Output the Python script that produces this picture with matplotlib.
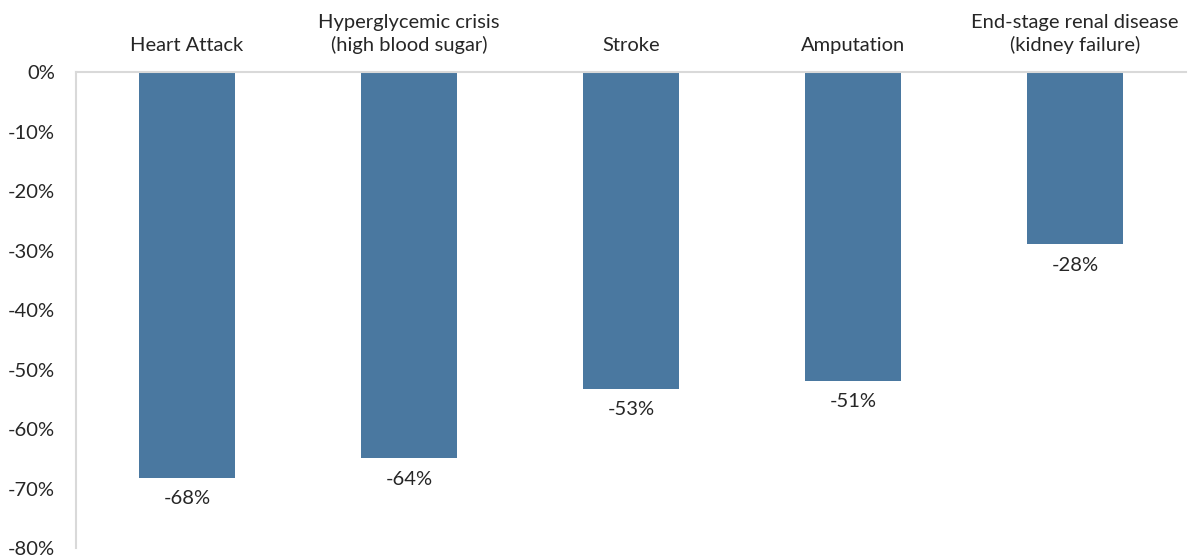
import matplotlib
matplotlib.use("Agg")
import matplotlib.pyplot as plt
from matplotlib.ticker import FuncFormatter

categories = ["Heart Attack", "Hyperglycemic crisis\n(high blood sugar)", "Stroke",
              "Amputation", "End-stage renal disease\n(kidney failure)"]
values = [-68.2, -64.9, -53.2, -51.9, -28.9]
value_labels = ["-68%", "-64%", "-53%", "-51%", "-28%"]
yticks = [0, -10, -20, -30, -40, -50, -60, -70, -80]

plt.rcParams['font.family'] = ['Lato', 'DejaVu Sans']

W, H = 1190, 556
fig = plt.figure(figsize=(W / 100, H / 100), dpi=100)
ax = fig.add_axes([76 / W, 1 - 548 / H, (1186 - 76) / W, (548 - 72.3) / H])

x = list(range(len(categories)))
bar_color = "#4a78a0"
ax.bar(x, values, width=0.43, color=bar_color, zorder=2)

ax.set_xlim(-0.5, len(categories) - 0.5)
ax.set_ylim(-80, 0)
ax.set_yticks(yticks)
ax.yaxis.set_major_formatter(FuncFormatter(lambda v, p: f"{int(round(v))}%"))
ax.tick_params(axis='y', length=0, pad=15, labelsize=14.5, labelcolor="#262626")

ax.xaxis.tick_top()
ax.set_xticks(x)
ax.set_xticklabels(categories, fontsize=14.5, color="#262626", linespacing=1.35)
ax.tick_params(axis='x', length=0, pad=13)

for s in ['right', 'bottom']:
    ax.spines[s].set_visible(False)
for s in ['left', 'top']:
    ax.spines[s].set_color("#d9d9d9")
    ax.spines[s].set_linewidth(1.5)

for xi, v, lab in zip(x, values, value_labels):
    ax.annotate(lab, (xi, v), xytext=(0, -9), textcoords="offset points",
                ha='center', va='top', fontsize=14.5, color="#262626")

fig.savefig("out.png", dpi=100)
